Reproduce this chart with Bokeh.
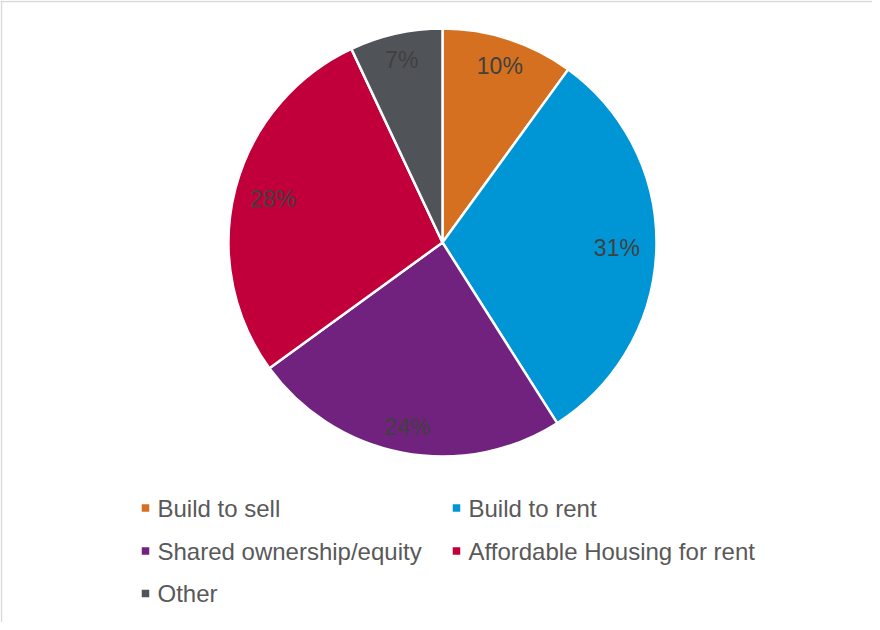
import math
from bokeh.plotting import figure
from bokeh.models import Range1d, Span, ColumnDataSource
from bokeh.core.properties import value
from bokeh.embed import file_html
from bokeh.resources import INLINE

# ---- data ----
categories = ["Build to sell", "Build to rent", "Shared ownership/equity",
              "Affordable Housing for rent", "Other"]
shares = [10, 31, 24, 28, 7]
colors = ["#D4701F", "#0096D6", "#71227E", "#C1003B", "#505459"]
label_texts = [f"{v}%" for v in shares]

W, H = 872, 622
FONT = "Liberation Sans"

p = figure(width=W, height=H, output_backend="svg", toolbar_location=None,
           x_range=Range1d(8, 8 + W), y_range=Range1d(0, H),
           min_border=0, outline_line_color=None)
p.axis.visible = False
p.grid.visible = False
p.background_fill_color = "white"
p.border_fill_color = "white"

# border (left and top only are visible in the reference)
p.add_layout(Span(location=9, dimension="height", line_color="#d9d9d9", line_width=1.5))
p.add_layout(Span(location=H - 1, dimension="width", line_color="#d9d9d9", line_width=1.5))

def Y(ys):
    return 630 - ys

cx, cy = 450, Y(250)
R = 214
total = float(sum(shares))
starts, ends, mids = [], [], []
cum = 0.0
for v in shares:
    a0 = cum / total
    cum += v
    a1 = cum / total
    starts.append(math.pi / 2 - 2 * math.pi * a0)
    ends.append(math.pi / 2 - 2 * math.pi * a1)
    mids.append(2 * math.pi * (a0 + a1) / 2)  # clockwise from top

src = ColumnDataSource(dict(x=[cx] * len(shares), y=[cy] * len(shares),
                            start=starts, end=ends, color=colors))
p.wedge(x="x", y="y", radius=R, radius_units="screen", start_angle="start",
        end_angle="end", direction="clock", fill_color="color",
        line_color="white", line_width=2.5, source=src)

# data labels
lx, ly = [], []
for m in mids:
    r = R * 0.89 - 16 * abs(math.sin(m))
    lx.append(cx + r * math.sin(m))
    ly.append(cy + r * math.cos(m))
p.text(x=lx, y=ly, text=label_texts, text_align="center", text_baseline="middle",
       text_font=value(FONT), text_font_size="23px", text_color="#404040")

# legend (manual, 2 columns)
col_x = [153, 464]
row_y = [515.5, 558.5, 601]
mx, my, tx, ty = [], [], [], []
for i, c in enumerate(categories):
    col = i % 2
    row = i // 2
    mx.append(col_x[col])
    my.append(Y(row_y[row]))
    tx.append(col_x[col] + 12)
    ty.append(Y(row_y[row]))
p.scatter(x=mx, y=my, marker="square", size=7.5, fill_color=colors, line_color=None)
p.text(x=tx, y=ty, text=categories, text_align="left", text_baseline="middle",
       text_font=value(FONT), text_font_size="24px", text_color="#595959")

open("out.html", "w").write(file_html(p, INLINE))
